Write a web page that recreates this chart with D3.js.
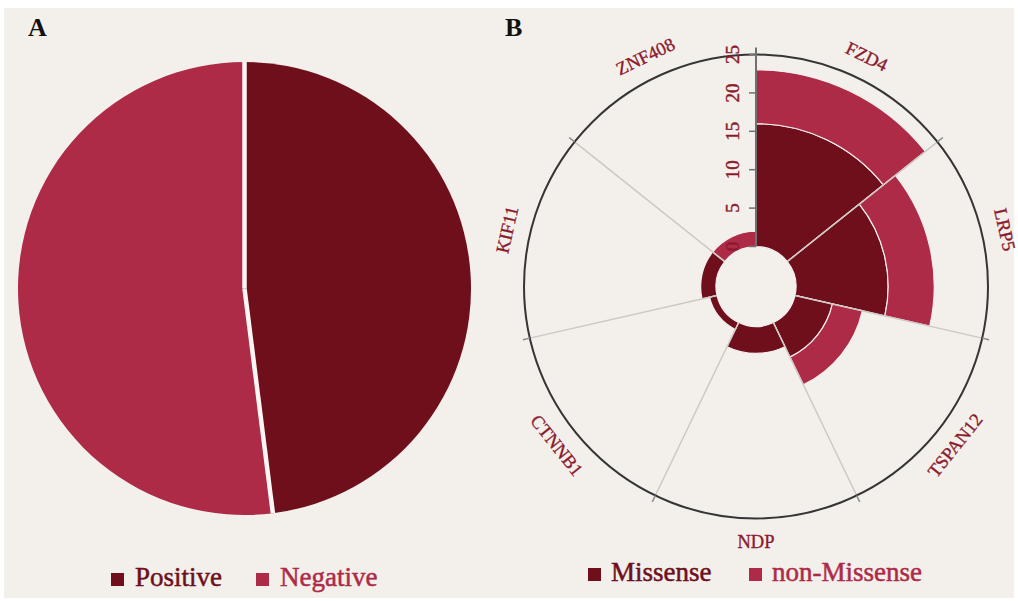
<!DOCTYPE html>
<html>
<head>
<meta charset="utf-8">
<script src="https://cdn.jsdelivr.net/npm/d3@7/dist/d3.min.js"></script>
<style>
  html, body { margin: 0; padding: 0; background: #ffffff; }
  svg { display: block; }
</style>
</head>
<body>
<svg id="chart" width="1018" height="601"></svg>
<script>
// Panel A: test result shares
const pieLabels = ["Positive", "Negative"];
const pieValues = [48, 52];

// Panel B: variant counts per gene (clockwise from top)
const genes = ["FZD4", "LRP5", "TSPAN12", "NDP", "CTNNB1", "KIF11", "ZNF408"];
const missense = [16, 12, 5, 3.5, 1, 2, 0];
const nonMissense = [7, 6, 4, 0, 0, 0, 2];
const seriesNames = ["Missense", "non-Missense"];
const radialTicks = [0, 5, 10, 15, 20, 25];

const DARK = "#6e0f1b";
const LIGHT = "#ad2b47";
const TEXT = "#8c1a2d";
const BG = "#f3efeb";
const SERIF = "'Liberation Serif', 'DejaVu Serif', serif";

const svg = d3.select("#chart");
svg.append("rect").attr("x", 4).attr("y", 8).attr("width", 1010).attr("height", 590).attr("fill", BG);

// ---------- Panel A ----------
svg.append("text").attr("x", 28).attr("y", 36)
  .attr("font-family", SERIF).attr("font-weight", "bold").attr("font-size", 26)
  .attr("fill", "#111").text("A");

const pieR = 226.5;
const gA = svg.append("g").attr("transform", "translate(244.5,288.5)");
const pie = d3.pie().sort(null).value(d => d)(pieValues);
const arcA = d3.arc().innerRadius(0).outerRadius(pieR);
const pieColor = d3.scaleOrdinal().domain(pieLabels).range([DARK, LIGHT]);
gA.selectAll("path.slice").data(pie).join("path")
  .attr("class", "slice")
  .attr("d", arcA)
  .attr("fill", (d, i) => pieColor(pieLabels[i]));
// white separators along slice boundaries
gA.selectAll("line.sep").data(pie).join("line")
  .attr("class", "sep")
  .attr("x1", 0).attr("y1", 0)
  .attr("x2", d => pieR * Math.sin(d.startAngle))
  .attr("y2", d => -pieR * Math.cos(d.startAngle))
  .attr("stroke", "#fbf6f4").attr("stroke-width", 4.5);

// legend A
const legA = svg.append("g").attr("font-family", SERIF).attr("font-size", 27);
const legAX = [111, 256];
pieLabels.forEach((name, i) => {
  legA.append("rect").attr("x", legAX[i]).attr("y", 573).attr("width", 13).attr("height", 13)
    .attr("fill", pieColor(name));
  legA.append("text").attr("x", legAX[i] + 24).attr("y", 586)
    .attr("fill", pieColor(name)).attr("stroke", pieColor(name)).attr("stroke-width", 0.5)
    .text(name);
});

// ---------- Panel B ----------
svg.append("text").attr("x", 505).attr("y", 36)
  .attr("font-family", SERIF).attr("font-weight", "bold").attr("font-size", 26)
  .attr("fill", "#111").text("B");

const cx = 756, cy = 286.5;
const r0 = 40, r1 = 232;
const gB = svg.append("g").attr("transform", `translate(${cx},${cy})`);

const x = d3.scaleBand().domain(genes).range([0, 2 * Math.PI]).paddingInner(0).paddingOuter(0);
const y = d3.scaleLinear().domain([0, 25]).range([r0, r1]);
const seriesColor = d3.scaleOrdinal().domain(seriesNames).range([DARK, LIGHT]);

const table = genes.map((g, i) => ({ gene: g, Missense: missense[i], "non-Missense": nonMissense[i] }));
const stacked = d3.stack().keys(seriesNames)(table);

const arcB = d3.arc()
  .innerRadius(d => y(d[0]))
  .outerRadius(d => y(d[1]))
  .startAngle(d => x(d.data.gene))
  .endAngle(d => x(d.data.gene) + x.bandwidth());

gB.selectAll("g.series").data(stacked).join("g")
  .attr("class", "series")
  .attr("fill", d => seriesColor(d.key))
  .selectAll("path").data(d => d.filter(s => s[1] > s[0])).join("path")
  .attr("d", arcB)
  .attr("stroke", "#f6efee").attr("stroke-width", 1.2);

// spokes at sector boundaries
const bounds = genes.map(g => x(g));
gB.selectAll("line.spoke").data(bounds.slice(1)).join("line")
  .attr("class", "spoke")
  .attr("x1", a => r0 * Math.sin(a)).attr("y1", a => -r0 * Math.cos(a))
  .attr("x2", a => r1 * Math.sin(a)).attr("y2", a => -r1 * Math.cos(a))
  .attr("stroke", "#cdc8c4").attr("stroke-width", 1.5);

// outer circle and its ticks
gB.append("circle").attr("r", r1).attr("fill", "none")
  .attr("stroke", "#353535").attr("stroke-width", 2);
gB.selectAll("line.otick").data(bounds.slice(1)).join("line")
  .attr("class", "otick")
  .attr("x1", a => r1 * Math.sin(a)).attr("y1", a => -r1 * Math.cos(a))
  .attr("x2", a => (r1 + 7) * Math.sin(a)).attr("y2", a => -(r1 + 7) * Math.cos(a))
  .attr("stroke", "#8a8a8a").attr("stroke-width", 1.5);

// gene labels, tangent to the circle
const labR = 255;
gB.selectAll("text.gene").data(genes).join("text")
  .attr("class", "gene")
  .attr("transform", g => {
    const a = x(g) + x.bandwidth() / 2;
    const deg = a * 180 / Math.PI;
    let rot = deg;
    if (deg > 90 && deg < 270) rot = deg - 180;
    else if (deg >= 270) rot = deg - 360;
    return `translate(${labR * Math.sin(a)},${-labR * Math.cos(a)}) rotate(${rot})`;
  })
  .attr("text-anchor", "middle").attr("dominant-baseline", "central")
  .attr("font-family", SERIF).attr("font-size", 18.5).attr("fill", TEXT)
  .attr("stroke", TEXT).attr("stroke-width", 0.35)
  .text(g => g);

// radial axis along the top
const axis = gB.append("g");
axis.append("line").attr("x1", 0).attr("x2", 0).attr("y1", -r0).attr("y2", -(r1 + 7))
  .attr("stroke", "#707070").attr("stroke-width", 2);
axis.selectAll("line.tick").data(radialTicks).join("line")
  .attr("class", "tick")
  .attr("x1", -7).attr("x2", 0)
  .attr("y1", d => -y(d)).attr("y2", d => -y(d))
  .attr("stroke", "#707070").attr("stroke-width", 1.5);
axis.selectAll("text.tl").data(radialTicks).join("text")
  .attr("class", "tl")
  .attr("transform", d => `translate(-24,${-y(d)}) rotate(-90)`)
  .attr("text-anchor", "middle").attr("dominant-baseline", "central")
  .attr("font-family", SERIF).attr("font-size", 19).attr("fill", TEXT)
  .attr("stroke", TEXT).attr("stroke-width", 0.4)
  .text(d => d);

// legend B
const legB = svg.append("g").attr("font-family", SERIF).attr("font-size", 27);
const legBX = [588, 749];
seriesNames.forEach((name, i) => {
  legB.append("rect").attr("x", legBX[i]).attr("y", 568).attr("width", 13).attr("height", 13)
    .attr("fill", seriesColor(name));
  legB.append("text").attr("x", legBX[i] + 23).attr("y", 581)
    .attr("fill", seriesColor(name)).attr("stroke", seriesColor(name)).attr("stroke-width", 0.5)
    .text(name);
});
</script>
</body>
</html>
